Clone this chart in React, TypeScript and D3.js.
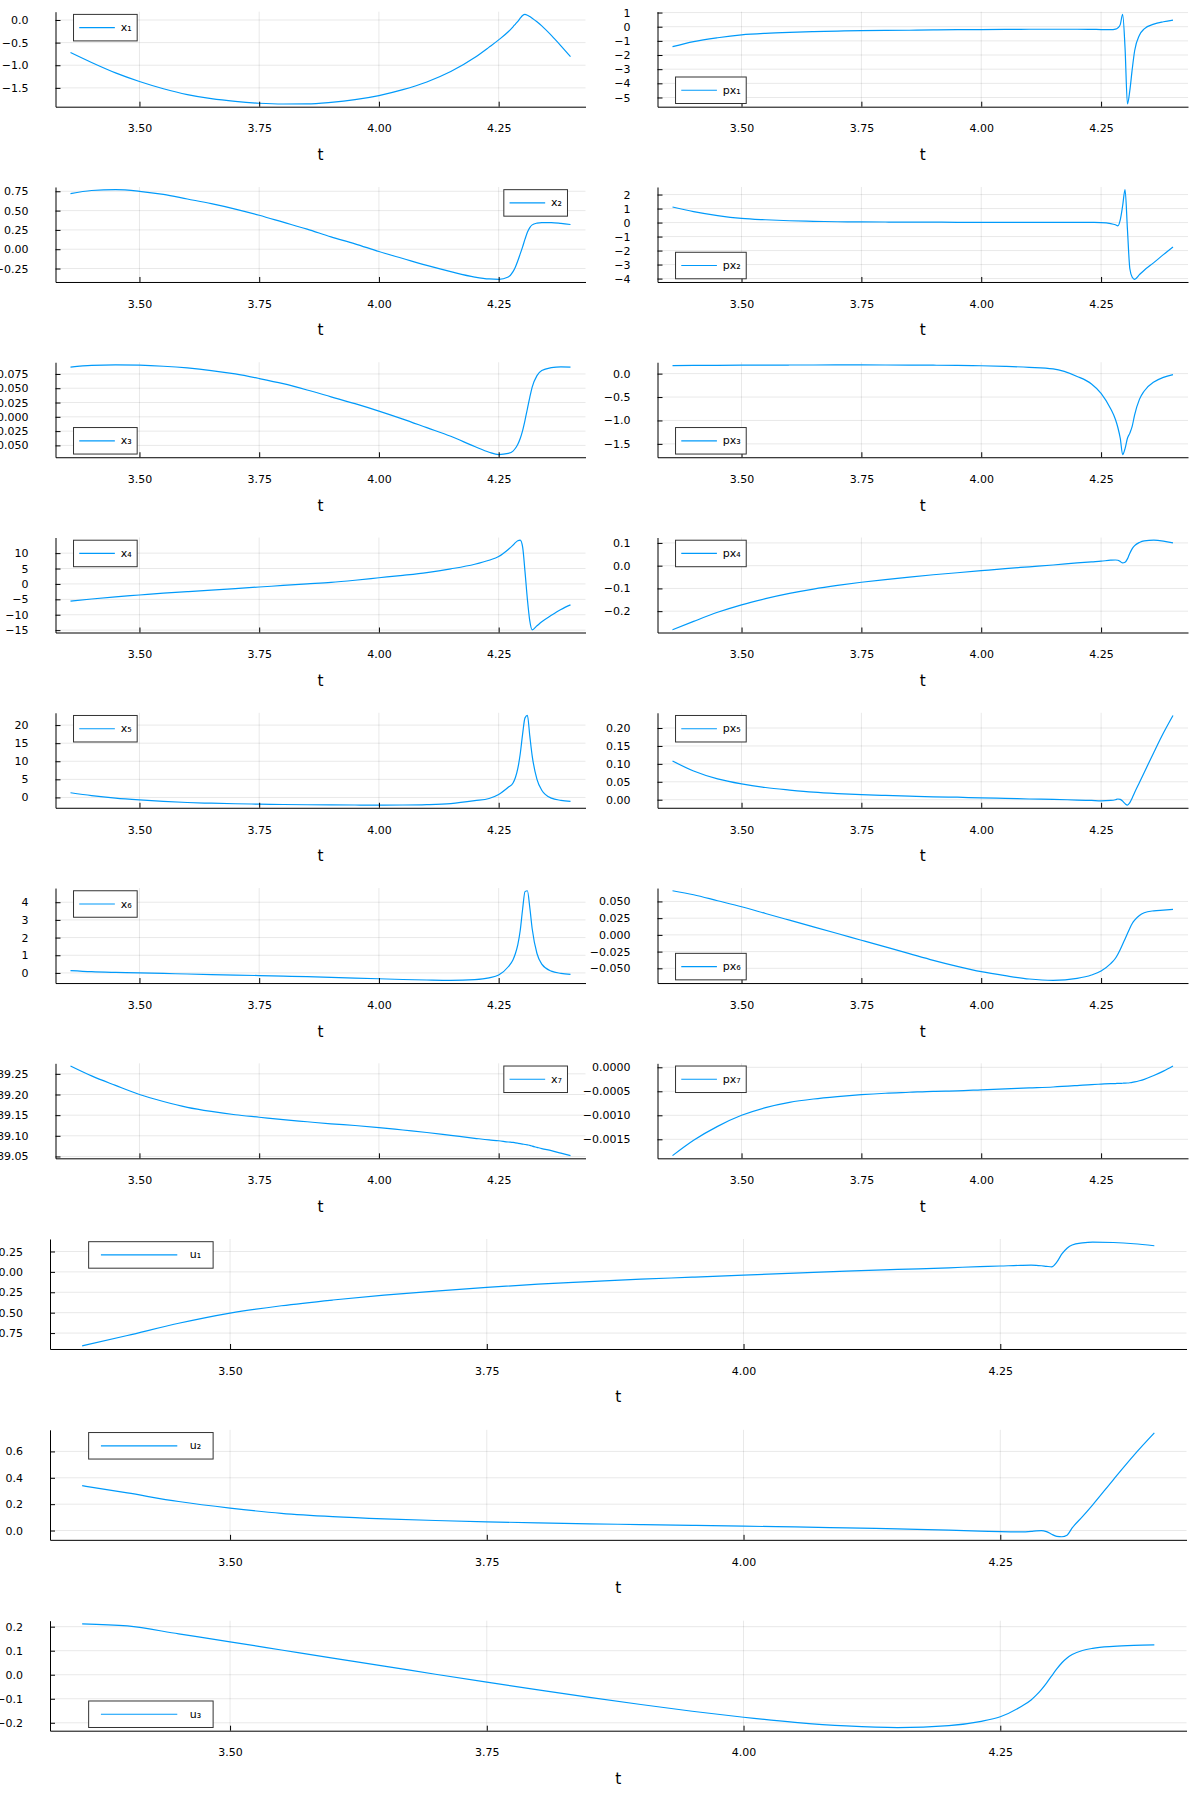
import React, { useEffect, useRef } from "react";
import * as d3 from "d3";

// time samples shared by every series (denser around the switching point)
const tValues = [
  3.356, 3.4, 3.45, 3.5, 3.55, 3.6, 3.65, 3.7, 3.75, 3.8, 3.85, 3.9, 3.95, 4.0, 4.05, 4.1, 4.15, 4.2,
  4.23, 4.25, 4.27, 4.28, 4.285, 4.29, 4.295, 4.3, 4.305, 4.31, 4.315, 4.32, 4.33, 4.34, 4.36, 4.38, 4.4,
];

const x1 = [
  -0.72, -0.94, -1.17, -1.36, -1.52, -1.65, -1.74, -1.8, -1.84, -1.857, -1.855, -1.82, -1.76, -1.67, -1.54, -1.37, -1.14, -0.83,
  -0.6, -0.44, -0.26, -0.15, -0.09, -0.03, 0.04, 0.1, 0.124, 0.105, 0.075, 0.04, -0.04, -0.13, -0.34, -0.57, -0.81,
];
const px1 = [
  -1.41, -1.05, -0.78, -0.58, -0.47, -0.4, -0.35, -0.31, -0.28, -0.26, -0.25, -0.23, -0.21, -0.2, -0.19, -0.18, -0.18, -0.18,
  -0.19, -0.2, -0.21, -0.17, -0.08, 0.15, 0.87, -1.5, -5.46, -4.5, -3.0, -1.7, -0.6, -0.15, 0.18, 0.35, 0.47,
];
const x2 = [
  0.72, 0.76, 0.771, 0.75, 0.71, 0.65, 0.59, 0.52, 0.44, 0.35, 0.26, 0.16, 0.07, -0.03, -0.12, -0.21, -0.29, -0.36,
  -0.385, -0.389, -0.36, -0.29, -0.23, -0.15, -0.06, 0.03, 0.13, 0.22, 0.28, 0.315, 0.338, 0.345, 0.345, 0.335, 0.32,
];
const px2 = [
  1.11, 0.78, 0.5, 0.3, 0.2, 0.13, 0.09, 0.06, 0.05, 0.04, 0.03, 0.03, 0.02, 0.02, 0.02, 0.02, 0.02, 0.02,
  0.01, 0.0, -0.07, -0.16, -0.23, 0.2, 1.2, 2.35, -0.5, -3.3, -3.9, -4.05, -3.72, -3.4, -2.86, -2.29, -1.74,
];
const x3 = [
  0.087, 0.09, 0.0908, 0.0903, 0.0885, 0.0855, 0.081, 0.075, 0.067, 0.058, 0.047, 0.035, 0.023, 0.01, -0.004, -0.019, -0.034, -0.052,
  -0.062, -0.066, -0.064, -0.06, -0.055, -0.048, -0.038, -0.024, -0.006, 0.014, 0.034, 0.052, 0.072, 0.081, 0.086, 0.0875, 0.087,
];
const px3 = [
  0.17, 0.175, 0.178, 0.18, 0.182, 0.184, 0.185, 0.186, 0.186, 0.185, 0.183, 0.18, 0.175, 0.168, 0.155, 0.135, 0.1, -0.06,
  -0.22, -0.42, -0.75, -0.98, -1.15, -1.38, -1.728, -1.6, -1.38, -1.27, -1.12, -0.88, -0.55, -0.37, -0.18, -0.08, -0.02,
];
const x4 = [
  -5.6, -4.9, -4.2, -3.6, -3.0, -2.5, -2.0, -1.5, -1.0, -0.5, 0.0, 0.5, 1.2, 2.0, 2.8, 3.7, 4.9, 6.4,
  7.7, 8.9, 11.2, 12.6, 13.4, 14.0, 14.2, 12.0, 4.0, -5.0, -12.0, -14.9, -13.6, -12.3, -10.2, -8.3, -6.8,
];
const px4 = [
  -0.282, -0.245, -0.205, -0.172, -0.145, -0.122, -0.103, -0.087, -0.073, -0.061, -0.05, -0.04, -0.031, -0.022, -0.013, -0.005, 0.003, 0.012,
  0.017, 0.02, 0.024, 0.025, 0.024, 0.018, 0.012, 0.015, 0.03, 0.055, 0.075, 0.088, 0.102, 0.109, 0.112, 0.108, 0.1,
];
const x5 = [
  1.3, 0.5, -0.2, -0.7, -1.1, -1.4, -1.6, -1.75, -1.85, -1.95, -2.02, -2.07, -2.1, -2.12, -2.1, -2.0, -1.7, -0.9,
  -0.3, 0.8, 2.8, 4.0, 5.5, 8.0, 12.0, 17.5, 22.0, 22.66, 17.0, 11.5, 5.0, 2.0, -0.2, -0.8, -1.1,
];
const px5 = [
  0.108, 0.08, 0.058, 0.044, 0.034, 0.027, 0.021, 0.017, 0.014, 0.012, 0.01, 0.008, 0.007, 0.005, 0.004, 0.002, 0.001, -0.001,
  -0.002, -0.003, -0.002, 0.0, 0.002, 0.001, -0.004, -0.011, -0.015, -0.008, 0.005, 0.02, 0.048, 0.076, 0.132, 0.186, 0.235,
];
const x6 = [
  0.13, 0.07, 0.03, 0.0, -0.03, -0.06, -0.09, -0.12, -0.15, -0.18, -0.21, -0.25, -0.29, -0.33, -0.37, -0.4, -0.42, -0.38,
  -0.28, -0.12, 0.35, 0.75, 1.1, 1.6, 2.4, 3.6, 4.6, 4.65, 3.7, 2.5, 1.1, 0.5, 0.1, -0.02, -0.08,
];
const px6 = [
  0.066, 0.06, 0.051, 0.042, 0.032, 0.022, 0.012, 0.002, -0.008, -0.018, -0.028, -0.038, -0.047, -0.055, -0.061, -0.066, -0.068, -0.065,
  -0.06, -0.054, -0.043, -0.035, -0.029, -0.022, -0.014, -0.006, 0.002, 0.01, 0.017, 0.022, 0.029, 0.033, 0.036, 0.037, 0.038,
];
const x7 = [
  89.269, 89.245, 89.222, 89.2, 89.183, 89.169, 89.159, 89.151, 89.145, 89.139, 89.134, 89.129, 89.125, 89.12, 89.114, 89.108, 89.101, 89.094,
  89.09, 89.088, 89.085, 89.084, 89.083, 89.082, 89.081, 89.08, 89.079, 89.078, 89.077, 89.075, 89.072, 89.069, 89.064, 89.058, 89.052,
];
const px7 = [
  -0.00184, -0.00152, -0.00123, -0.001, -0.00084, -0.00073, -0.00066, -0.00061, -0.00057, -0.00054, -0.00052, -0.0005, -0.00049, -0.00047, -0.00045, -0.00043, -0.00041, -0.00038,
  -0.00036, -0.00035, -0.00034, -0.000338, -0.000336, -0.000334, -0.000332, -0.00033, -0.000327, -0.000322, -0.000315, -0.000305, -0.00028, -0.00025, -0.00017, -0.00008, 0.000027,
];
const u1 = [
  -0.907, -0.78, -0.63, -0.505, -0.415, -0.345, -0.285, -0.235, -0.19, -0.15, -0.12, -0.09, -0.065, -0.04, -0.015, 0.01, 0.03, 0.05,
  0.065, 0.072, 0.08, 0.082, 0.08, 0.075, 0.068, 0.062, 0.12, 0.22, 0.29, 0.33, 0.355, 0.365, 0.36, 0.345, 0.32,
];
const u2 = [
  0.34, 0.285, 0.22, 0.17, 0.13, 0.105, 0.088, 0.076, 0.066, 0.058, 0.051, 0.045, 0.039, 0.033, 0.027, 0.02, 0.012, 0.003,
  -0.004, -0.008, -0.01, -0.006, -0.002, 0.0, -0.008, -0.028, -0.044, -0.047, -0.035, 0.02, 0.105, 0.195, 0.385, 0.57, 0.74,
];
const u3 = [
  0.212, 0.203, 0.17, 0.137, 0.103, 0.069, 0.036, 0.002, -0.031, -0.063, -0.094, -0.124, -0.152, -0.177, -0.198, -0.213, -0.22, -0.212,
  -0.195, -0.175, -0.133, -0.105, -0.085, -0.062, -0.035, -0.005, 0.024, 0.05, 0.07, 0.084, 0.101, 0.11, 0.118, 0.122, 0.124,
];

// tick labels
const tTicks = [3.5, 3.75, 4.0, 4.25];
const x1Ticks = [0, -0.5, -1, -1.5];
const px1Ticks = [1, 0, -1, -2, -3, -4, -5];
const x2Ticks = [0.75, 0.5, 0.25, 0, -0.25];
const px2Ticks = [2, 1, 0, -1, -2, -3, -4];
const x3Ticks = [0.075, 0.05, 0.025, 0, -0.025, -0.05];
const px3Ticks = [0, -0.5, -1, -1.5];
const x4Ticks = [10, 5, 0, -5, -10, -15];
const px4Ticks = [0.1, 0, -0.1, -0.2];
const x5Ticks = [20, 15, 10, 5, 0];
const px5Ticks = [0.2, 0.15, 0.1, 0.05, 0];
const x6Ticks = [4, 3, 2, 1, 0];
const px6Ticks = [0.05, 0.025, 0, -0.025, -0.05];
const x7Ticks = [89.25, 89.2, 89.15, 89.1, 89.05];
const px7Ticks = [0, -0.0005, -0.001, -0.0015];
const u1Ticks = [0.25, 0, -0.25, -0.5, -0.75];
const u2Ticks = [0.6, 0.4, 0.2, 0];
const u3Ticks = [0.2, 0.1, 0, -0.1, -0.2];

const panels = [
  { label: "x₁", values: x1, ticks: x1Ticks, digits: 1, row: 0, col: 0, legend: "tl" },
  { label: "px₁", values: px1, ticks: px1Ticks, digits: 0, row: 0, col: 1, legend: "bl" },
  { label: "x₂", values: x2, ticks: x2Ticks, digits: 2, row: 1, col: 0, legend: "tr" },
  { label: "px₂", values: px2, ticks: px2Ticks, digits: 0, row: 1, col: 1, legend: "bl" },
  { label: "x₃", values: x3, ticks: x3Ticks, digits: 3, row: 2, col: 0, legend: "bl" },
  { label: "px₃", values: px3, ticks: px3Ticks, digits: 1, row: 2, col: 1, legend: "bl" },
  { label: "x₄", values: x4, ticks: x4Ticks, digits: 0, row: 3, col: 0, legend: "tl" },
  { label: "px₄", values: px4, ticks: px4Ticks, digits: 1, row: 3, col: 1, legend: "tl" },
  { label: "x₅", values: x5, ticks: x5Ticks, digits: 0, row: 4, col: 0, legend: "tl" },
  { label: "px₅", values: px5, ticks: px5Ticks, digits: 2, row: 4, col: 1, legend: "tl" },
  { label: "x₆", values: x6, ticks: x6Ticks, digits: 0, row: 5, col: 0, legend: "tl" },
  { label: "px₆", values: px6, ticks: px6Ticks, digits: 3, row: 5, col: 1, legend: "bl" },
  { label: "x₇", values: x7, ticks: x7Ticks, digits: 2, row: 6, col: 0, legend: "tr" },
  { label: "px₇", values: px7, ticks: px7Ticks, digits: 4, row: 6, col: 1, legend: "tl" },
  { label: "u₁", values: u1, ticks: u1Ticks, digits: 2, row: 7, col: -1, legend: "tl" },
  { label: "u₂", values: u2, ticks: u2Ticks, digits: 1, row: 8, col: -1, legend: "tl" },
  { label: "u₃", values: u3, ticks: u3Ticks, digits: 1, row: 9, col: -1, legend: "bl" },
];

const COLOR = "#009AFA";
const FONT = "DejaVu Sans, sans-serif";
const ROW_H = 175.27;
const WIDE_H = 190.85;

// plot area of a subplot
const frameOf = (row: number, col: number) => {
  if (row < 7) {
    const top = row * ROW_H + 11.7;
    return {
      left: col === 0 ? 55.5 : 657.5,
      right: col === 0 ? 585.5 : 1188,
      top,
      bottom: top + 95,
    };
  }
  const base = 7 * ROW_H + (row - 7) * WIDE_H;
  return { left: 50, right: 1186.5, top: base + 12.1, bottom: base + 122.1 };
};

// Plots.jl style 3% padding of the limits
const widen = ([lo, hi]: number[]) => {
  const m = (hi - lo) * 0.03;
  return [lo - m, hi + m];
};

const App = () => {
  const ref = useRef<SVGSVGElement>(null);

  useEffect(() => {
    renderChart();
  }, []);

  const renderChart = () => {
    const svg = d3.select(ref.current);
    svg.selectAll("*").remove();
    svg.append("rect").attr("width", 1199).attr("height", 1799).attr("fill", "#fff");

    panels.forEach((p) => {
      const f = frameOf(p.row, p.col);
      const w = f.right - f.left;
      const x = d3.scaleLinear().domain(widen(d3.extent(tValues) as number[])).range([f.left, f.right]);
      const y = d3.scaleLinear().domain(widen(d3.extent(p.values) as number[])).range([f.bottom, f.top]);
      const g = svg.append("g");

      // grid
      g.append("g")
        .selectAll("line")
        .data(tTicks)
        .join("line")
        .attr("x1", (d) => x(d))
        .attr("x2", (d) => x(d))
        .attr("y1", f.top)
        .attr("y2", f.bottom)
        .attr("stroke", "#000")
        .attr("stroke-opacity", 0.09);
      g.append("g")
        .selectAll("line")
        .data(p.ticks)
        .join("line")
        .attr("x1", f.left)
        .attr("x2", f.right)
        .attr("y1", (d) => y(d))
        .attr("y2", (d) => y(d))
        .attr("stroke", "#000")
        .attr("stroke-opacity", 0.09);

      // series
      const line = d3
        .line<number>()
        .x((d, i) => x(tValues[i]))
        .y((d) => y(d))
        .curve(d3.curveMonotoneX);
      g.append("path")
        .datum(p.values)
        .attr("fill", "none")
        .attr("stroke", COLOR)
        .attr("stroke-width", 1.2)
        .attr("d", line);

      // axes, ticks pointing inwards
      const xAxis = g
        .append("g")
        .attr("transform", `translate(0,${f.bottom})`)
        .call(
          d3.axisBottom(x).tickValues(tTicks).tickFormat(d3.format(".2f")).tickSizeInner(-5).tickSizeOuter(0).tickPadding(18)
        );
      const yAxis = g
        .append("g")
        .attr("transform", `translate(${f.left},0)`)
        .call(
          d3
            .axisLeft(y)
            .tickValues(p.ticks)
            .tickFormat(d3.format(`.${p.digits}f`))
            .tickSizeInner(-5)
            .tickSizeOuter(0)
            .tickPadding(27)
        );
      [xAxis, yAxis].forEach((a) => a.attr("font-family", FONT).attr("font-size", 11).style("color", "#000"));

      g.append("text")
        .attr("x", (f.left + f.right) / 2)
        .attr("y", f.bottom + 53.5)
        .attr("text-anchor", "middle")
        .attr("font-family", FONT)
        .attr("font-size", 15.3)
        .text("t");

      // legend
      const lg = g.append("g");
      const box = lg.append("rect").attr("fill", "#fff").attr("stroke", "#333").attr("stroke-width", 1);
      const sample = lg.append("line").attr("stroke", COLOR).attr("stroke-width", 1.2);
      const label = lg
        .append("text")
        .attr("font-family", FONT)
        .attr("font-size", 11)
        .attr("dominant-baseline", "central")
        .text(p.label);
      const tw = (label.node() as SVGTextElement).getComputedTextLength();
      const boxW = 0.0995 * w + tw;
      const boxH = 26.5;
      const bx = p.legend === "tr" ? f.right - 0.034 * w - boxW : f.left + 0.034 * w;
      const by = p.legend === "bl" ? f.bottom - 3.2 - boxH : f.top + 2.7;
      box.attr("x", bx).attr("y", by).attr("width", boxW).attr("height", boxH);
      sample
        .attr("x1", bx + 0.0108 * w)
        .attr("x2", bx + 0.078 * w)
        .attr("y1", by + boxH / 2)
        .attr("y2", by + boxH / 2);
      label.attr("x", bx + 0.089 * w).attr("y", by + boxH / 2);
    });
  };

  return <svg ref={ref} width={1199} height={1799} style={{ position: "absolute", left: 0, top: 0 }} />;
};

export default App;
